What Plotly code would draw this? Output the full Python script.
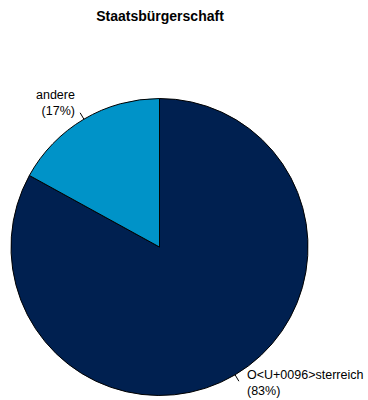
import math
import plotly.graph_objects as go

labels = ["O<U+0096>sterreich", "andere"]
values = [83, 17]
colors = ["#002050", "#0093C8"]
title = "Staatsbürgerschaft"

W, H = 368, 400
cx, cy, r = 159.5, 247.0, 148.5  # pie centre / radius in pixels
FONT = "Liberation Sans, Arial, sans-serif"

fig = go.Figure()
fig.add_trace(go.Pie(
    labels=labels, values=values, sort=False, direction="clockwise", rotation=0,
    marker=dict(colors=colors, line=dict(color="#000000", width=1)),
    textinfo="none", hoverinfo="label+percent", showlegend=False,
    domain=dict(x=[(cx - r) / W, (cx + r) / W], y=[1 - (cy + r) / H, 1 - (cy - r) / H]),
))

total = sum(values)
start = 0.0
shapes, annots = [], []
for lab, v in zip(labels, values):
    frac = v / total
    mid = (start + frac / 2) * 2 * math.pi
    start += frac
    sx, sy = math.sin(mid), math.cos(mid)
    x0, y0 = cx + r * sx, cy - r * sy
    x1, y1 = cx + 1.05 * r * sx, cy - 1.05 * r * sy
    xl, yl = cx + 1.1 * r * sx, cy - 1.1 * r * sy
    shapes.append(dict(type="line", xref="paper", yref="paper",
                       x0=x0 / W, y0=1 - y0 / H, x1=x1 / W, y1=1 - y1 / H,
                       line=dict(color="#000000", width=1)))
    pct = round(100 * frac)
    left = sx < 0
    annots.append(dict(xref="paper", yref="paper", x=xl / W, y=1 - yl / H,
                       text=f"{lab}<br>({pct}%)", showarrow=False,
                       xanchor="right" if left else "left", yanchor="middle",
                       align="right" if left else "left",
                       xshift=1 if left else 2, yshift=3 if left else 5,
                       font=dict(family=FONT, size=12.5, color="#000000")))

fig.update_layout(
    width=W, height=H, margin=dict(l=0, r=0, t=0, b=0),
    paper_bgcolor="white", plot_bgcolor="white",
    title=dict(text=f"<b>{title}</b>", x=160 / W, xanchor="center", y=1 - 16.5 / H, yanchor="middle",
               font=dict(family=FONT, size=14, color="#000000")),
    shapes=shapes, annotations=annots,
)
fig.write_html("out.html", config={"displayModeBar": False},
               post_script="document.body.style.margin='0';")
